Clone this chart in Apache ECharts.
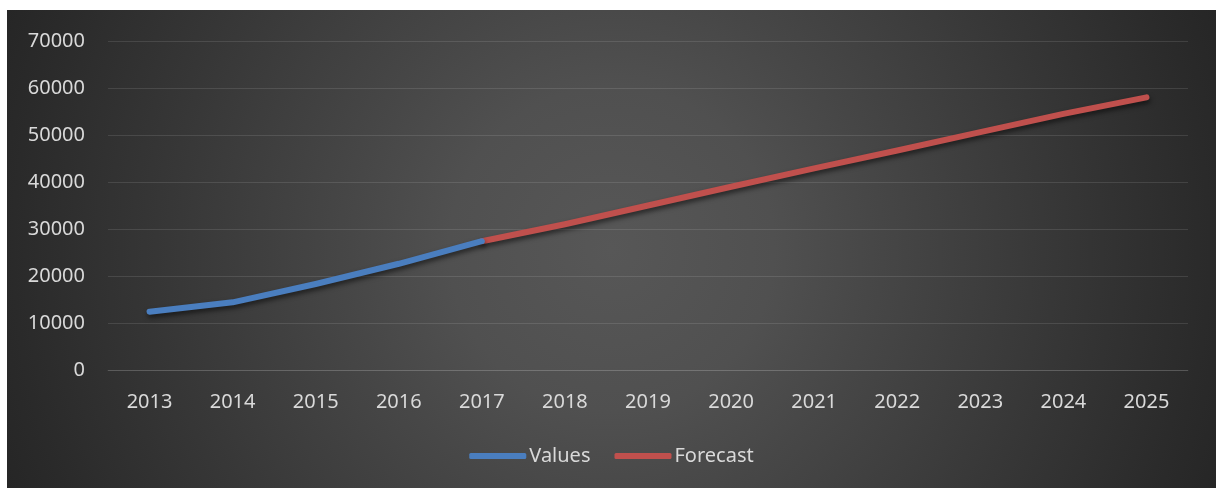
<!DOCTYPE html>
<html>
<head>
<meta charset="utf-8">
<script src="https://cdn.jsdelivr.net/npm/echarts@6/dist/echarts.min.js"></script>
<style>
  html, body { margin: 0; padding: 0; background: #ffffff; }
  #chart {
    position: absolute;
    left: 7px;
    top: 10px;
    width: 1209px;
    height: 478px;
    background: radial-gradient(circle farthest-corner at 50% 50%, #575757 0%, #505050 25%, #474747 40%, #363636 70%, #2a2a2a 92%, #262626 100%);
  }
</style>
</head>
<body>
<div id="chart"></div>
<script>
  // Yearly figures: observed values up to 2017, forecast from 2017 onwards
  const years = ['2013', '2014', '2015', '2016', '2017', '2018', '2019', '2020', '2021', '2022', '2023', '2024', '2025'];
  const values = [12400, 14400, 18300, 22600, 27400, null, null, null, null, null, null, null, null];
  const forecast = [null, null, null, null, 27400, 31000, 35000, 39000, 42900, 46700, 50600, 54500, 58000];
  const yTicks = { min: 0, max: 70000, step: 10000 };

  const textColor = '#d9d9d9';
  const gridColor = 'rgba(255,255,255,0.11)';
  const fontFamily = '"Noto Sans", "Open Sans", sans-serif';

  const lineStyle = (color) => ({
    color: color,
    width: 6,
    cap: 'round',
    join: 'round',
    shadowColor: 'rgba(0,0,0,0.55)',
    shadowBlur: 5,
    shadowOffsetX: 1,
    shadowOffsetY: 3
  });

  const chart = echarts.init(document.getElementById('chart'), null, { renderer: 'canvas' });
  chart.setOption({
    backgroundColor: 'transparent',
    textStyle: { fontFamily: fontFamily },
    grid: { left: 101, right: 28, top: 31, bottom: 118, containLabel: false },
    xAxis: {
      type: 'category',
      data: years,
      boundaryGap: true,
      axisLine: { show: true, lineStyle: { color: gridColor, width: 1 } },
      axisTick: { show: false },
      axisLabel: { color: textColor, fontSize: 20, margin: 22, fontFamily: fontFamily }
    },
    yAxis: {
      type: 'value',
      min: yTicks.min,
      max: yTicks.max,
      interval: yTicks.step,
      axisLine: { show: false },
      axisTick: { show: false },
      axisLabel: {
        color: textColor,
        fontSize: 20,
        margin: 23,
        fontFamily: fontFamily,
        formatter: (v) => String(v)
      },
      splitLine: { show: true, lineStyle: { color: gridColor, width: 1 } }
    },
    legend: {
      bottom: 17,
      left: 'center',
      itemWidth: 57,
      itemHeight: 6,
      itemGap: 24,
      icon: 'roundRect',
      textStyle: { color: textColor, fontSize: 20, fontFamily: fontFamily, padding: [0, 0, 0, -2] },
      data: [
        { name: 'Values', itemStyle: { color: '#4a7ebf' } },
        { name: 'Forecast', itemStyle: { color: '#c0504d' } }
      ]
    },
    series: [
      {
        name: 'Values',
        type: 'line',
        data: values,
        showSymbol: false,
        symbol: 'none',
        connectNulls: false,
        color: '#4a7ebf',
        lineStyle: lineStyle('#4a7ebf'),
        z: 3
      },
      {
        name: 'Forecast',
        type: 'line',
        data: forecast,
        showSymbol: false,
        symbol: 'none',
        connectNulls: false,
        color: '#c0504d',
        lineStyle: lineStyle('#c0504d'),
        z: 2
      }
    ],
    animation: false
  });
</script>
</body>
</html>
